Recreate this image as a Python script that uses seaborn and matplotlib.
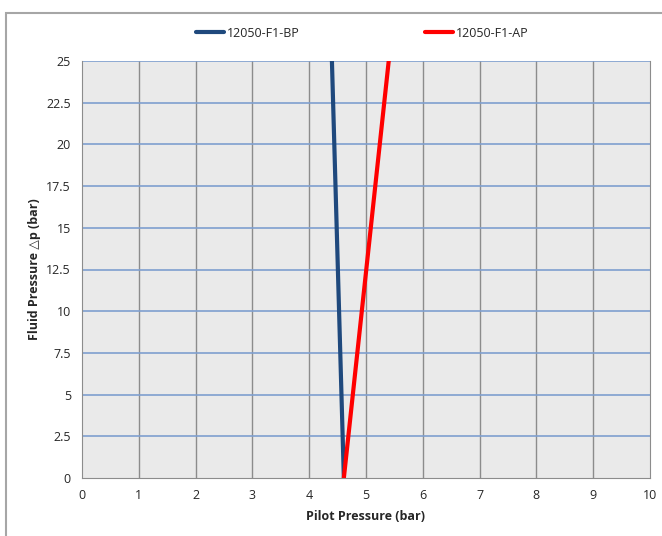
import pandas as pd
import seaborn as sns
import matplotlib.pyplot as plt
from matplotlib.patches import Rectangle

# data
fluid_dp = [0, 25]
pilot_bp = [4.61, 4.40]
pilot_ap = [4.61, 5.40]
series_names = ["12050-F1-BP", "12050-F1-AP"]
colors = ["#1F497D", "#FF0000"]

df = pd.concat([
    pd.DataFrame({"pilot": pilot_bp, "dp": fluid_dp, "series": series_names[0]}),
    pd.DataFrame({"pilot": pilot_ap, "dp": fluid_dp, "series": series_names[1]}),
])

sns.set_style("white")
plt.rcParams['font.family'] = ['Open Sans', 'DejaVu Sans']

fig = plt.figure(figsize=(6.62, 5.36), dpi=100)
# chart border, cut off at right and bottom like the reference
fig.patches.append(Rectangle((6/662, -0.05), 1.1, (536-13)/536 + 0.05,
                             transform=fig.transFigure, fill=False,
                             edgecolor="#A6A6A6", lw=1.5))
ax = fig.add_axes([82/662, 1-478/536, (650-82)/662, (478-61)/536])
ax.set_facecolor("#EAEAEA")

sns.lineplot(data=df, x="pilot", y="dp", hue="series", palette=colors,
             sort=False, estimator=None, linewidth=3, ax=ax)

ax.set_xlim(0, 10)
ax.set_ylim(0, 25)
ax.set_xticks(range(0, 11))
ax.set_yticks([0, 2.5, 5, 7.5, 10, 12.5, 15, 17.5, 20, 22.5, 25])
ax.set_yticklabels(["0", "2.5", "5", "7.5", "10", "12.5", "15", "17.5", "20", "22.5", "25"])
for x in range(1, 10):
    ax.axvline(x, color="#8C8C8C", lw=1, zorder=0)
for y in [2.5, 5, 7.5, 10, 12.5, 15, 17.5, 20, 22.5, 25]:
    ax.axhline(y, color="#7F9FCF", lw=1.2, zorder=0)
for s in ax.spines.values():
    s.set_color("#8C8C8C")
ax.spines["top"].set_visible(False)
ax.tick_params(labelsize=9, length=0, pad=8)

ax.set_xlabel("Pilot Pressure (bar)", fontsize=9, fontweight="bold", labelpad=6)
ax.set_ylabel("Fluid Pressure \u25b3p (bar)", fontsize=9, fontweight="bold", labelpad=4)

ax.legend(loc="lower center", bbox_to_anchor=(0.493, 1.0), ncol=2, frameon=False,
          fontsize=9, columnspacing=10, handlelength=2.3, handletextpad=0.2,
          borderaxespad=1.3)

plt.savefig("out.png", dpi=100)
